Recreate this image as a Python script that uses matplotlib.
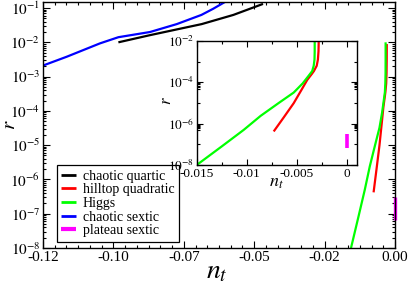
import numpy as np
import matplotlib
matplotlib.use("Agg")
import matplotlib.pyplot as plt
from matplotlib.ticker import FixedLocator, FixedFormatter, MultipleLocator, LogLocator, NullFormatter

plt.rcParams['font.family'] = ['Liberation Serif', 'DejaVu Serif']
plt.rcParams['mathtext.fontset'] = 'stix'

# data (n_t, r)
quartic_nt = [-0.0943, -0.0835, -0.0659, -0.0551, -0.0450]
quartic_r = [1.0e-2, 1.62e-2, 3.4e-2, 6.3e-2, 1.32e-1]

hilltop_nt = [-0.0073, -0.0063, -0.0053, -0.0045, -0.00395, -0.0035, -0.00328, -0.0030, -0.00288, -0.00282, -0.0028]
hilltop_r = [4.2e-7, 2.0e-6, 9.8e-6, 4.5e-5, 1.3e-4, 2.5e-4, 3.5e-4, 6.3e-4, 1.26e-3, 3.2e-3, 8.9e-3]

higgs_nt = [-0.0150, -0.0125, -0.0103, -0.0086, -0.0068, -0.0053, -0.0044, -0.0038, -0.00345, -0.0033, -0.00322, -0.0032, -0.0032]
higgs_r = [1.0e-8, 7.9e-8, 5.0e-7, 2.4e-6, 1.0e-5, 3.2e-5, 8.9e-5, 2.1e-4, 3.5e-4, 6.3e-4, 1.26e-3, 3.2e-3, 1.0e-2]

sextic_nt = [-0.1200, -0.1119, -0.1006, -0.0943, -0.0835, -0.0744, -0.0660, -0.0620, -0.0580]
sextic_r = [2.1e-3, 3.8e-3, 9.3e-3, 1.41e-2, 2.0e-2, 3.4e-2, 6.3e-2, 9.5e-2, 1.5e-1]

plateau_nt = [0.0, 0.0]
plateau_r = [6.6e-8, 3.1e-7]

names = ['chaotic quartic', 'hilltop quadratic', 'Higgs', 'chaotic sextic', 'plateau sextic']
colors = ['black', 'red', '#00ff00', 'blue', 'magenta']

main_xticks = [-0.12, -0.096, -0.072, -0.048, -0.024, 0.0]
main_xlabels = ['-0.12', '-0.10', '-0.07', '-0.05', '-0.02', '0.00']
main_yticks = [1e-8, 1e-7, 1e-6, 1e-5, 1e-4, 1e-3, 1e-2, 1e-1]
main_ylabels = ['$10^{-8}$', '$10^{-7}$', '$10^{-6}$', '$10^{-5}$', '$10^{-4}$', '$10^{-3}$', '$10^{-2}$', '$10^{-1}$']

ins_xticks = [-0.015, -0.01, -0.005, 0.0]
ins_xlabels = ['-0.015', '-0.01', '-0.005', '0']
ins_yticks = [1e-8, 1e-6, 1e-4, 1e-2]
ins_ylabels = ['$10^{-8}$', '$10^{-6}$', '$10^{-4}$', '$10^{-2}$']
ins_yminor = [5e-9, 6e-9, 7e-9, 8e-9, 9e-9, 1e-7, 5e-7, 6e-7, 7e-7, 8e-7, 9e-7, 1e-5,
              5e-5, 6e-5, 7e-5, 8e-5, 9e-5, 1e-3]


def draw_curves(ax, lw=1.6, plw=2.4, plateau_clip=True):
    series = [(quartic_nt, quartic_r), (hilltop_nt, hilltop_r), (higgs_nt, higgs_r),
              (sextic_nt, sextic_r)]
    for (x, y), name, c in zip(series, names[:4], colors[:4]):
        ax.plot(x, y, color=c, lw=lw, label=name, solid_capstyle='butt')
    ax.plot(plateau_nt, plateau_r, color=colors[4], lw=plw, label=names[4],
            solid_capstyle='butt', clip_on=plateau_clip)


fig = plt.figure(figsize=(4.09, 2.88), dpi=100)
ax = fig.add_axes([43 / 409, 40 / 288, 352 / 409, 246 / 288])
draw_curves(ax, plateau_clip=False)
ax.set_yscale('log')
ax.set_xlim(-0.12, 0.0)
ax.set_ylim(1e-8, 1.5e-1)
ax.xaxis.set_major_locator(FixedLocator(main_xticks))
ax.xaxis.set_major_formatter(FixedFormatter(main_xlabels))
ax.xaxis.set_minor_locator(MultipleLocator(0.004))
ax.yaxis.set_major_locator(FixedLocator(main_yticks))
ax.yaxis.set_major_formatter(FixedFormatter(main_ylabels))
ax.yaxis.set_minor_locator(LogLocator(base=10, subs=np.arange(2, 10), numticks=30))
ax.yaxis.set_minor_formatter(NullFormatter())
ax.tick_params(which='both', direction='in', top=True, right=True, width=0.8, labelsize=11)
ax.tick_params(which='major', length=5, pad=2)
ax.tick_params(which='minor', length=2.5)
for s in ax.spines.values():
    s.set_linewidth(1.0)
ax.text(-0.093, 0.5, '$r$', transform=ax.transAxes, rotation=90, fontsize=15,
        ha='center', va='center')
ax.text(0.494, -0.098, '$n_t$', transform=ax.transAxes, fontsize=20,
        ha='center', va='center')

leg = ax.legend(loc='lower left', bbox_to_anchor=(56.5 / 409, 46.5 / 288),
                bbox_transform=fig.transFigure, fontsize=10, frameon=True,
                fancybox=False, edgecolor='black', framealpha=1, borderpad=0.3,
                labelspacing=0.05, handlelength=1.1, handletextpad=0.5, borderaxespad=0)
leg.get_frame().set_linewidth(0.9)
for h in leg.get_lines():
    h.set_linewidth(2.0)
leg.get_lines()[4].set_linewidth(3.0)

ins = fig.add_axes([196.7 / 409, 123 / 288, 160 / 409, 124 / 288])
draw_curves(ins, lw=1.6, plw=2.6)
ins.set_yscale('log')
ins.set_xlim(-0.015, 0.001)
ins.set_ylim(1e-8, 1e-2)
ins.xaxis.set_major_locator(FixedLocator(ins_xticks))
ins.xaxis.set_major_formatter(FixedFormatter(ins_xlabels))
ins.xaxis.set_minor_locator(MultipleLocator(0.0025))
ins.yaxis.set_major_locator(FixedLocator(ins_yticks))
ins.yaxis.set_major_formatter(FixedFormatter(ins_ylabels))
ins.yaxis.set_minor_locator(FixedLocator(ins_yminor))
ins.yaxis.set_minor_formatter(NullFormatter())
ins.tick_params(which='both', direction='in', top=True, right=True, width=0.8, labelsize=9.5)
ins.tick_params(which='major', length=4.5, pad=2)
ins.tick_params(which='minor', length=2.5)
for s in ins.spines.values():
    s.set_linewidth(1.0)
ins.text(-0.186, 0.516, '$r$', transform=ins.transAxes, rotation=90, fontsize=12,
         ha='center', va='center')
ins.text(0.497, -0.145, '$n_t$', transform=ins.transAxes, fontsize=13,
         ha='center', va='center')

fig.savefig('out.png', dpi=100)
